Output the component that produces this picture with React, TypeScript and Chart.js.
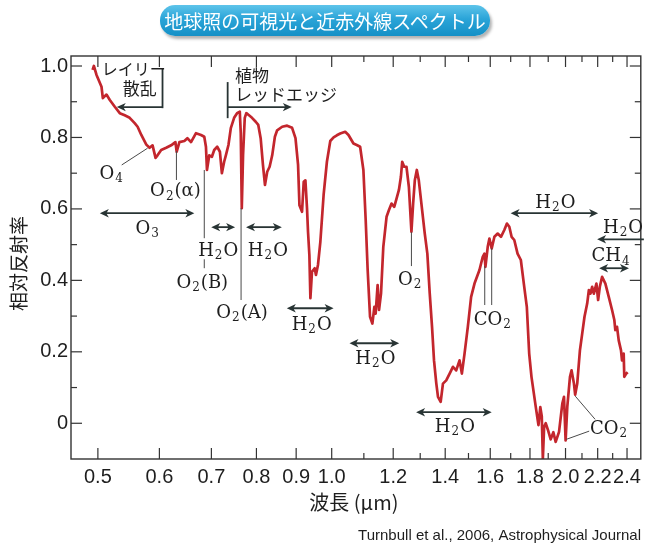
import React, { useEffect, useRef } from "react";
import { Chart, registerables } from "chart.js";

Chart.register(...registerables);

// ---------- data ----------
const wavelengthUm = [
  0.4922, 0.4941, 0.4980, 0.5054, 0.5074, 0.5129, 0.5180, 0.5257, 0.5335, 0.5414,
  0.5494, 0.5576, 0.5625, 0.5687, 0.5772, 0.5828, 0.5880, 0.5932, 0.5967, 0.6032,
  0.6122, 0.6213, 0.6292, 0.6316, 0.6367, 0.6461, 0.6519, 0.6590, 0.6688, 0.6788,
  0.6854, 0.6888, 0.6909, 0.6956, 0.7011, 0.7059, 0.7122, 0.7179, 0.7221, 0.7270,
  0.7307, 0.7363, 0.7415, 0.7488, 0.7554, 0.7615, 0.7637, 0.7660, 0.7689, 0.7728,
  0.7764, 0.7826, 0.7896, 0.7983, 0.8044, 0.8101, 0.8156, 0.8205, 0.8260, 0.8319,
  0.8383, 0.8450, 0.8507, 0.8634, 0.8762, 0.8892, 0.8982, 0.9051, 0.9088, 0.9158,
  0.9204, 0.9250, 0.9294, 0.9322, 0.9360, 0.9388, 0.9432, 0.9508, 0.9544, 0.9601,
  0.9669, 0.9763, 0.9859, 0.9958, 1.0056, 1.0154, 1.0256, 1.0408, 1.0510, 1.0666,
  1.0770, 1.0879, 1.0985, 1.1060, 1.1125, 1.1204, 1.1281, 1.1348, 1.1391, 1.1458,
  1.1506, 1.1574, 1.1653, 1.1766, 1.1850, 1.1941, 1.2037, 1.2119, 1.2205, 1.2277,
  1.2324, 1.2397, 1.2481, 1.2570, 1.2666, 1.2730, 1.2794, 1.2870, 1.2946, 1.3046,
  1.3177, 1.3278, 1.3373, 1.3464, 1.3543, 1.3636, 1.3704, 1.3813, 1.3907, 1.4043,
  1.4185, 1.4324, 1.4464, 1.4609, 1.4709, 1.4826, 1.4971, 1.5118, 1.5270, 1.5497,
  1.5648, 1.5727, 1.5773, 1.5881, 1.5960, 1.6069, 1.6198, 1.6356, 1.6516, 1.6682,
  1.6811, 1.6930, 1.7045, 1.7181, 1.7349, 1.7519, 1.7696, 1.7832, 1.7958, 1.8080,
  1.8311, 1.8458, 1.8560, 1.8640, 1.8700, 1.8770, 1.8859, 1.8993, 1.9139, 1.9292,
  1.9424, 1.9619, 1.9811, 1.9910, 2.0005, 2.0105, 2.0266, 2.0362, 2.0506, 2.0580,
  2.0707, 2.0872, 2.1014, 2.1157, 2.1326, 2.1434, 2.1535, 2.1643, 2.1752, 2.1919,
  2.2029, 2.2140, 2.2291, 2.2508, 2.2735, 2.2958, 2.3114, 2.3182, 2.3299, 2.3416,
  2.3575, 2.3645, 2.3763, 2.3806, 2.3946, 2.4045,
];

const relativeReflectance = [
  0.989, 1.000, 0.975, 0.942, 0.910, 0.920, 0.905, 0.886, 0.868, 0.862,
  0.855, 0.840, 0.830, 0.807, 0.780, 0.771, 0.778, 0.743, 0.750, 0.765,
  0.771, 0.778, 0.787, 0.760, 0.787, 0.790, 0.798, 0.787, 0.812, 0.807,
  0.802, 0.774, 0.709, 0.750, 0.746, 0.765, 0.774, 0.760, 0.700, 0.732,
  0.750, 0.779, 0.826, 0.855, 0.868, 0.872, 0.812, 0.602, 0.750, 0.855,
  0.868, 0.862, 0.855, 0.844, 0.835, 0.798, 0.723, 0.667, 0.704, 0.718,
  0.750, 0.802, 0.820, 0.830, 0.833, 0.827, 0.798, 0.723, 0.610, 0.592,
  0.676, 0.680, 0.602, 0.536, 0.470, 0.350, 0.424, 0.434, 0.415, 0.443,
  0.508, 0.639, 0.732, 0.790, 0.800, 0.806, 0.811, 0.816, 0.807, 0.783,
  0.779, 0.774, 0.709, 0.569, 0.429, 0.298, 0.279, 0.326, 0.307, 0.387,
  0.317, 0.363, 0.494, 0.578, 0.597, 0.615, 0.606, 0.629, 0.653, 0.690,
  0.732, 0.718, 0.718, 0.662, 0.536, 0.615, 0.680, 0.709, 0.680, 0.615,
  0.531, 0.475, 0.363, 0.270, 0.176, 0.111, 0.074, 0.060, 0.111, 0.120,
  0.139, 0.158, 0.148, 0.176, 0.139, 0.195, 0.270, 0.354, 0.391, 0.429,
  0.466, 0.475, 0.438, 0.494, 0.517, 0.489, 0.522, 0.531, 0.522, 0.541,
  0.559, 0.550, 0.522, 0.513, 0.475, 0.457, 0.382, 0.326, 0.195, 0.130,
  0.046, -0.005, 0.045, 0.020, -0.100, -0.010, 0.000, -0.020, -0.045, -0.025,
  -0.052, -0.024, 0.055, 0.074, -0.048, 0.046, 0.130, 0.148, 0.111, 0.080,
  0.111, 0.204, 0.251, 0.298, 0.335, 0.373, 0.363, 0.382, 0.363, 0.391,
  0.345, 0.382, 0.410, 0.391, 0.354, 0.317, 0.289, 0.261, 0.270, 0.232,
  0.204, 0.176, 0.195, 0.130, 0.139, 0.143,
];

const xTickValues = [0.5, 0.6, 0.7, 0.8, 0.9, 1.0, 1.2, 1.4, 1.6, 1.8, 2.0, 2.2, 2.4];
const xMinorTickValues = [1.1, 1.3, 1.5, 1.7, 1.9, 2.1, 2.3];
const yTickValues = [0, 0.2, 0.4, 0.6, 0.8, 1.0];
const yMinorTickValues = [0.1, 0.3, 0.5, 0.7, 0.9];

const titleText = "地球照の可視光と近赤外線スペクトル";
const xAxisTitle = "波長 (μm)";
const yAxisTitle = "相対反射率";
const sourceText = "Turnbull et al., 2006, Astrophysical Journal";

// annotations, anchored in data units (wavelength, reflectance)
const chemLabels = [
  { text: "O{4}", w: 0.5210, v: 0.703 },
  { text: "O{2}(α)", w: 0.6292, v: 0.653 },
  { text: "O{3}", w: 0.5794, v: 0.549 },
  { text: "H{2}O", w: 0.7143, v: 0.487 },
  { text: "O{2}(B)", w: 0.6814, v: 0.398 },
  { text: "H{2}O", w: 0.8277, v: 0.487 },
  { text: "O{2}(A)", w: 0.7666, v: 0.314 },
  { text: "H{2}O", w: 0.9424, v: 0.280 },
  { text: "H{2}O", w: 1.1381, v: 0.185 },
  { text: "O{2}", w: 1.2618, v: 0.406 },
  { text: "H{2}O", w: 1.4408, v: -0.006 },
  { text: "CO{2}", w: 1.6117, v: 0.294 },
  { text: "H{2}O", w: 1.9406, v: 0.622 },
  { text: "H{2}O", w: 2.3714, v: 0.552 },
  { text: "CH{4}", w: 2.2890, v: 0.471 },
  { text: "CO{2}", w: 2.2756, v: -0.011 },
];

const jpLabels = [
  { text: "レイリー", w: 0.5059, v: 0.992, align: "left", size: 16 },
  { text: "散乱", w: 0.5659, v: 0.938, align: "center", size: 17 },
  { text: "植物", w: 0.7510, v: 0.972, align: "left", size: 17 },
  { text: "レッドエッジ", w: 0.7510, v: 0.919, align: "left", size: 17 },
];

const leaderLines = [
  [0.5366, 0.723, 0.5794, 0.770],
  [0.6311, 0.762, 0.6311, 0.681],
  [0.6854, 0.709, 0.6854, 0.518],
  [0.6854, 0.459, 0.6854, 0.434],
  [0.7644, 0.602, 0.7644, 0.345],
  [1.2666, 0.535, 1.2666, 0.440],
  [1.5741, 0.440, 1.5741, 0.331],
  [1.6069, 0.490, 1.6069, 0.331],
  [2.0585, 0.076, 2.1835, 0.011],
  [2.0046, -0.045, 2.1453, -0.022],
];

const bracketLines = [
  [0.6056, 0.994, 0.6056, 0.882],
  [0.7346, 0.955, 0.7346, 0.854],
];

const arrows = [
  { w1: 0.6056, w2: 0.5288, v: 0.885, heads: "end" },
  { w1: 0.7346, w2: 0.8884, v: 0.885, heads: "end" },
  { w1: 0.5029, w2: 0.6655, v: 0.588, heads: "both" },
  { w1: 0.6997, w2: 0.7510, v: 0.549, heads: "both" },
  { w1: 0.7757, w2: 0.8626, v: 0.549, heads: "both" },
  { w1: 0.8754, w2: 1.0056, v: 0.322, heads: "both" },
  { w1: 1.0541, w2: 1.2215, v: 0.224, heads: "both" },
  { w1: 1.2843, w2: 1.6069, v: 0.031, heads: "both" },
  { w1: 1.6995, w2: 2.2029, v: 0.588, heads: "both" },
  { w1: 2.5229, w2: 2.1965, v: 0.515, heads: "end" },
  { w1: 2.2095, w2: 2.4138, v: 0.434, heads: "both" },
];

// ---------- drawing helpers ----------
const SANS = '"Liberation Sans", Arial, Helvetica, sans-serif';
const JP = '"Noto Sans CJK JP", "Noto Sans", sans-serif';
const SERIF = '"DejaVu Serif", "Liberation Serif", serif';
const INK = "#1e1e1e";
const ARROW = "#283434";

function drawChem(ctx: CanvasRenderingContext2D, text: string, cx: number, cy: number, fs: number) {
  const parts: { t: string; sub: boolean }[] = [];
  const re = /\{([^}]*)\}/g;
  let last = 0;
  let m: RegExpExecArray | null;
  while ((m = re.exec(text)) !== null) {
    if (m.index > last) parts.push({ t: text.slice(last, m.index), sub: false });
    parts.push({ t: m[1], sub: true });
    last = re.lastIndex;
  }
  if (last < text.length) parts.push({ t: text.slice(last), sub: false });
  const subFs = Math.round(fs * 0.66);
  const fontFor = (p: { sub: boolean }) => `${p.sub ? subFs : fs}px ${SERIF}`;
  let total = 0;
  const widths = parts.map((p) => {
    ctx.font = fontFor(p);
    const w = ctx.measureText(p.t).width + (p.sub ? 2 : 0);
    total += w;
    return w;
  });
  let x = cx - total / 2;
  const base = cy + fs * 0.36;
  ctx.textAlign = "left";
  ctx.textBaseline = "alphabetic";
  parts.forEach((p, i) => {
    ctx.font = fontFor(p);
    ctx.fillText(p.t, p.sub ? x + 1 : x, p.sub ? base + fs * 0.2 : base);
    x += widths[i];
  });
}

function arrowHead(ctx: CanvasRenderingContext2D, x: number, y: number, dir: number) {
  const L = 9;
  const H = 4.2;
  const notch = 2.5;
  ctx.beginPath();
  ctx.moveTo(x, y);
  ctx.lineTo(x - dir * L, y - H);
  ctx.lineTo(x - dir * (L - notch), y);
  ctx.lineTo(x - dir * L, y + H);
  ctx.closePath();
  ctx.fill();
}

const overlayPlugin = {
  id: "overlay",
  afterDraw(chart: any) {
    const { ctx, chartArea: a, scales } = chart;
    const X = (w: number) => scales.x.getPixelForValue(w);
    const Y = (v: number) => scales.y.getPixelForValue(v);
    ctx.save();

    // frame and inward ticks on all four sides
    ctx.strokeStyle = "#333";
    ctx.lineWidth = 1.4;
    ctx.strokeRect(a.left, a.top, a.right - a.left, a.bottom - a.top);
    ctx.lineWidth = 1.2;
    const seg = (x1: number, y1: number, x2: number, y2: number) => {
      ctx.beginPath();
      ctx.moveTo(x1, y1);
      ctx.lineTo(x2, y2);
      ctx.stroke();
    };
    xTickValues.forEach((w) => {
      const x = X(w);
      seg(x, a.bottom, x, a.bottom - 11);
      seg(x, a.top, x, a.top + 11);
    });
    xMinorTickValues.forEach((w) => {
      const x = X(w);
      seg(x, a.bottom, x, a.bottom - 6);
      seg(x, a.top, x, a.top + 6);
    });
    yTickValues.forEach((v) => {
      const y = Y(v);
      seg(a.left, y, a.left + 11, y);
      seg(a.right, y, a.right - 11, y);
    });
    yMinorTickValues.forEach((v) => {
      const y = Y(v);
      seg(a.left, y, a.left + 6, y);
      seg(a.right, y, a.right - 6, y);
    });

    // axis titles and source
    ctx.fillStyle = INK;
    ctx.font = `20px ${JP}`;
    ctx.textAlign = "center";
    ctx.textBaseline = "middle";
    ctx.fillText(xAxisTitle, (a.left + a.right) / 2 - 2, a.bottom + 43);
    ctx.save();
    ctx.translate(19, (a.top + a.bottom) / 2 + 6);
    ctx.rotate(-Math.PI / 2);
    ctx.font = `19px ${JP}`;
    ctx.fillText(yAxisTitle, 0, 0);
    ctx.restore();
    ctx.font = `15px ${SANS}`;
    ctx.textAlign = "right";
    ctx.fillText(sourceText, 641, a.bottom + 77, 328);

    // thin leader lines
    ctx.strokeStyle = "#4a4a4a";
    ctx.lineWidth = 1;
    leaderLines.forEach(([w1, v1, w2, v2]) => seg(X(w1), Y(v1), X(w2), Y(v2)));

    // bracket lines
    ctx.strokeStyle = ARROW;
    ctx.lineWidth = 1.8;
    bracketLines.forEach(([w1, v1, w2, v2]) => seg(X(w1), Y(v1), X(w2), Y(v2)));

    // arrows
    ctx.fillStyle = ARROW;
    arrows.forEach((ar) => {
      const x1 = X(ar.w1);
      const x2 = X(ar.w2);
      const y = Y(ar.v);
      const dir = Math.sign(x2 - x1);
      const s1 = ar.heads === "both" ? x1 + dir * 4 : x1;
      seg(s1, y, x2 - dir * 4, y);
      arrowHead(ctx, x2, y, dir);
      if (ar.heads === "both") arrowHead(ctx, x1, y, -dir);
    });

    // chemical labels
    ctx.fillStyle = INK;
    chemLabels.forEach((l) => drawChem(ctx, l.text, X(l.w), Y(l.v), 18));

    // Japanese labels
    jpLabels.forEach((l) => {
      ctx.font = `${l.size}px ${JP}`;
      ctx.textAlign = l.align as CanvasTextAlign;
      ctx.textBaseline = "middle";
      ctx.fillText(l.text, X(l.w), Y(l.v));
    });

    ctx.restore();
  },
};

export default function App() {
  const canvasRef = useRef<HTMLCanvasElement>(null);

  useEffect(() => {
    const canvas = canvasRef.current;
    if (!canvas) return;
    const chart = new Chart(canvas, {
      type: "line",
      data: {
        datasets: [
          {
            label: "地球照スペクトル",
            data: wavelengthUm.map((w, i) => ({ x: w, y: relativeReflectance[i] })),
            borderColor: "#c3262d",
            borderWidth: 2.7,
            pointRadius: 0,
            tension: 0,
            fill: false,
            borderJoinStyle: "round",
          },
        ],
      },
      options: {
        responsive: false,
        animation: false,
        events: [],
        layout: { padding: { left: 0, right: 3, top: 56, bottom: 0 } },
        plugins: { legend: { display: false }, tooltip: { enabled: false }, title: { display: false } },
        scales: {
          x: {
            type: "logarithmic",
            min: 0.4617,
            max: 2.5,
            grid: { display: false, drawTicks: false },
            border: { display: false },
            afterBuildTicks: (s: any) => {
              s.ticks = xTickValues.map((v) => ({ value: v }));
            },
            afterFit: (s: any) => {
              s.height = 88;
            },
            ticks: {
              autoSkip: false,
              maxRotation: 0,
              minRotation: 0,
              padding: 6,
              color: INK,
              font: { family: SANS, size: 20 },
              callback: (v: any) => Number(v).toFixed(1),
            },
          },
          y: {
            type: "linear",
            min: -0.1,
            max: 1.028,
            grid: { display: false, drawTicks: false },
            border: { display: false },
            afterBuildTicks: (s: any) => {
              s.ticks = yTickValues.map((v) => ({ value: v }));
            },
            afterFit: (s: any) => {
              s.width = 71;
            },
            ticks: {
              padding: 3,
              color: INK,
              font: { family: SANS, size: 20 },
              callback: (v: any) => (Number(v) === 0 ? "0" : Number(v).toFixed(1)),
            },
          },
        },
      },
      plugins: [overlayPlugin],
    } as any);
    return () => chart.destroy();
  }, []);

  return (
    <div style={{ position: "absolute", left: 0, top: 0, width: 647, height: 547, background: "#fff", overflow: "hidden" }}>
      <canvas ref={canvasRef} width={647} height={547} style={{ position: "absolute", left: 0, top: 0, width: 647, height: 547 }} />
      <div
        style={{
          position: "absolute",
          left: 160,
          top: 5,
          width: 330,
          height: 31,
          borderRadius: 15,
          background: "linear-gradient(180deg, #5ec4ea 0%, #2aa4d8 45%, #1590c6 100%)",
          boxShadow: "2px 3px 3px rgba(0,0,0,0.3)",
          color: "#fff",
          fontFamily: JP,
          fontSize: 19,
          display: "flex",
          alignItems: "center",
          justifyContent: "center",
          whiteSpace: "nowrap",
        }}
      >
        {titleText}
      </div>
    </div>
  );
}
